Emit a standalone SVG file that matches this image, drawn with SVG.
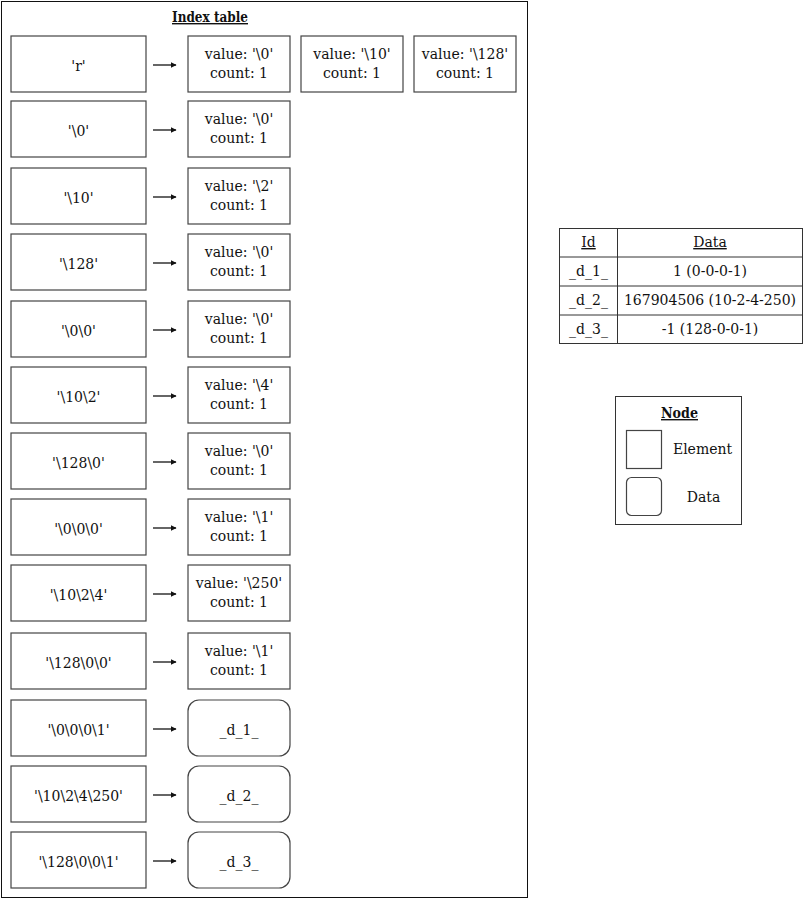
<svg xmlns="http://www.w3.org/2000/svg" width="806" height="899" viewBox="0 0 806 899">
<style>
  text{font-family:"DejaVu Serif","Liberation Serif",serif;font-size:14px;fill:#111;text-anchor:middle}
  .b{stroke:#444;stroke-width:1.2;fill:#fff}
  .t{font-weight:bold;text-decoration:underline}
  .u{text-decoration:underline}
  .c{stroke:#333;stroke-width:1.5;fill:none}
  .g{stroke:#333;stroke-width:1;fill:none}
</style>
<defs>
  <marker id="ah" viewBox="0 0 10 10" refX="9" refY="5" markerWidth="6" markerHeight="6" orient="auto" markerUnits="userSpaceOnUse">
    <path d="M0,0 L10,5 L0,10 z" fill="#111"/>
  </marker>
</defs>
<rect width="806" height="899" fill="#fff"/>
<g id="index-table">
  <rect x="1.5" y="1.5" width="526" height="896" fill="#fff" stroke="#111" stroke-width="1"/>
  <text class="t" x="210" y="22" textLength="76" lengthAdjust="spacingAndGlyphs" font-size="13">Index table</text>
</g>
<g id="keys">
  <g id="k0"><rect class="b" x="11" y="36" width="135" height="56"/><text x="78.5" y="71">'r'</text></g>
  <g id="k1"><rect class="b" x="11" y="101" width="135" height="56"/><text x="78.5" y="136">'\0'</text></g>
  <g id="k2"><rect class="b" x="11" y="168" width="135" height="56"/><text x="78.5" y="203">'\10'</text></g>
  <g id="k3"><rect class="b" x="11" y="234" width="135" height="56"/><text x="78.5" y="269">'\128'</text></g>
  <g id="k4"><rect class="b" x="11" y="301" width="135" height="56"/><text x="78.5" y="336">'\0\0'</text></g>
  <g id="k5"><rect class="b" x="11" y="367" width="135" height="56"/><text x="78.5" y="402">'\10\2'</text></g>
  <g id="k6"><rect class="b" x="11" y="433" width="135" height="56"/><text x="78.5" y="468">'\128\0'</text></g>
  <g id="k7"><rect class="b" x="11" y="499" width="135" height="56"/><text x="78.5" y="534">'\0\0\0'</text></g>
  <g id="k8"><rect class="b" x="11" y="565" width="135" height="56"/><text x="78.5" y="600">'\10\2\4'</text></g>
  <g id="k9"><rect class="b" x="11" y="633" width="135" height="56"/><text x="78.5" y="668">'\128\0\0'</text></g>
  <g id="k10"><rect class="b" x="11" y="700" width="135" height="56"/><text x="78.5" y="735">'\0\0\0\1'</text></g>
  <g id="k11"><rect class="b" x="11" y="766" width="135" height="56"/><text x="78.5" y="801">'\10\2\4\250'</text></g>
  <g id="k12"><rect class="b" x="11" y="832" width="135" height="56"/><text x="78.5" y="867">'\128\0\0\1'</text></g>
</g>
<g id="values">
  <g id="v0a"><rect class="b" x="188" y="36" width="102" height="56"/><text x="239" y="59">value: '\0'</text><text x="239" y="78">count: 1</text></g>
  <g id="v0b"><rect class="b" x="301" y="36" width="102" height="56"/><text x="352" y="59">value: '\10'</text><text x="352" y="78">count: 1</text></g>
  <g id="v0c"><rect class="b" x="414" y="36" width="102" height="56"/><text x="465" y="59">value: '\128'</text><text x="465" y="78">count: 1</text></g>
  <g id="v1"><rect class="b" x="188" y="101" width="102" height="56"/><text x="239" y="124">value: '\0'</text><text x="239" y="143">count: 1</text></g>
  <g id="v2"><rect class="b" x="188" y="168" width="102" height="56"/><text x="239" y="191">value: '\2'</text><text x="239" y="210">count: 1</text></g>
  <g id="v3"><rect class="b" x="188" y="234" width="102" height="56"/><text x="239" y="257">value: '\0'</text><text x="239" y="276">count: 1</text></g>
  <g id="v4"><rect class="b" x="188" y="301" width="102" height="56"/><text x="239" y="324">value: '\0'</text><text x="239" y="343">count: 1</text></g>
  <g id="v5"><rect class="b" x="188" y="367" width="102" height="56"/><text x="239" y="390">value: '\4'</text><text x="239" y="409">count: 1</text></g>
  <g id="v6"><rect class="b" x="188" y="433" width="102" height="56"/><text x="239" y="456">value: '\0'</text><text x="239" y="475">count: 1</text></g>
  <g id="v7"><rect class="b" x="188" y="499" width="102" height="56"/><text x="239" y="522">value: '\1'</text><text x="239" y="541">count: 1</text></g>
  <g id="v8"><rect class="b" x="188" y="565" width="102" height="56"/><text x="239" y="588">value: '\250'</text><text x="239" y="607">count: 1</text></g>
  <g id="v9"><rect class="b" x="188" y="633" width="102" height="56"/><text x="239" y="656">value: '\1'</text><text x="239" y="675">count: 1</text></g>
  <g id="d1"><rect class="b" x="188" y="700" width="102" height="56" rx="11"/><text x="239" y="735">_d_1_</text></g>
  <g id="d2"><rect class="b" x="188" y="766" width="102" height="56" rx="11"/><text x="239" y="801">_d_2_</text></g>
  <g id="d3"><rect class="b" x="188" y="832" width="102" height="56" rx="11"/><text x="239" y="867">_d_3_</text></g>
</g>
<g id="connectors">
  <line class="c" x1="153" y1="65" x2="176" y2="65" marker-end="url(#ah)"/>
  <line class="c" x1="153" y1="130" x2="176" y2="130" marker-end="url(#ah)"/>
  <line class="c" x1="153" y1="197" x2="176" y2="197" marker-end="url(#ah)"/>
  <line class="c" x1="153" y1="263" x2="176" y2="263" marker-end="url(#ah)"/>
  <line class="c" x1="153" y1="330" x2="176" y2="330" marker-end="url(#ah)"/>
  <line class="c" x1="153" y1="396" x2="176" y2="396" marker-end="url(#ah)"/>
  <line class="c" x1="153" y1="462" x2="176" y2="462" marker-end="url(#ah)"/>
  <line class="c" x1="153" y1="528" x2="176" y2="528" marker-end="url(#ah)"/>
  <line class="c" x1="153" y1="594" x2="176" y2="594" marker-end="url(#ah)"/>
  <line class="c" x1="153" y1="662" x2="176" y2="662" marker-end="url(#ah)"/>
  <line class="c" x1="153" y1="729" x2="176" y2="729" marker-end="url(#ah)"/>
  <line class="c" x1="153" y1="795" x2="176" y2="795" marker-end="url(#ah)"/>
  <line class="c" x1="153" y1="861" x2="176" y2="861" marker-end="url(#ah)"/>
</g>
<g id="data-table">
  <rect x="559.5" y="228.5" width="243" height="115" fill="#fff" stroke="#333" stroke-width="1"/>
  <line class="g" x1="617.5" y1="228.5" x2="617.5" y2="343.5"/>
  <line class="g" x1="559.5" y1="257" x2="802.5" y2="257"/>
  <line class="g" x1="559.5" y1="286" x2="802.5" y2="286"/>
  <line class="g" x1="559.5" y1="315" x2="802.5" y2="315"/>
  <text class="u" x="588.5" y="247">Id</text>
  <text class="u" x="710" y="247">Data</text>
  <text x="588.5" y="276">_d_1_</text>
  <text x="710" y="276">1 (0-0-0-1)</text>
  <text x="588.5" y="305">_d_2_</text>
  <text x="710" y="305">167904506 (10-2-4-250)</text>
  <text x="588.5" y="334">_d_3_</text>
  <text x="710" y="334">-1 (128-0-0-1)</text>
</g>
<g id="legend">
  <rect x="615.5" y="396.5" width="126" height="128" fill="#fff" stroke="#333" stroke-width="1"/>
  <text class="t" x="679.5" y="418" textLength="37" lengthAdjust="spacingAndGlyphs" font-size="13">Node</text>
  <rect class="b" x="626.5" y="430.5" width="35" height="38"/>
  <text x="702.5" y="454">Element</text>
  <rect class="b" x="626.5" y="477.5" width="35" height="38" rx="5"/>
  <text x="703.5" y="502">Data</text>
</g>
</svg>
